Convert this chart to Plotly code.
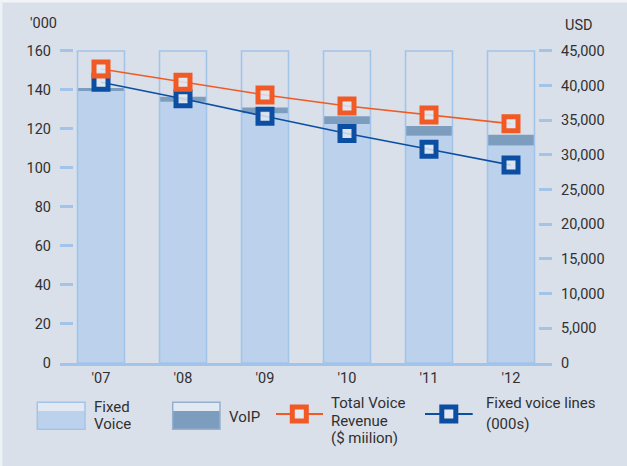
import plotly.graph_objects as go

# ---- data -------------------------------------------------------------
years = ["'07", "'08", "'09", "'10", "'11", "'12"]
fixed_voice = [139.5, 134.0, 128.0, 122.5, 116.5, 111.5]      # '000, left axis
voip = [1.5, 2.5, 3.0, 4.0, 5.0, 5.5]                          # '000, stacked on fixed voice
frame_top = [160, 160, 160, 160, 160, 160]                     # outline box for each year
revenue = [42400, 40500, 38650, 37050, 35750, 34500]           # USD million, right axis
fixed_lines = [144.0, 135.5, 126.5, 117.7, 109.6, 101.5]       # 000s, left axis

left_ticks = [0, 20, 40, 60, 80, 100, 120, 140, 160]
right_ticks = [0, 5000, 10000, 15000, 20000, 25000, 30000, 35000, 40000, 45000]

# ---- styling ----------------------------------------------------------
BG = "#d9e0ea"
FIXED = "#bcd2ec"
VOIP = "#7d9dbf"
OUTLINE = "#a3c4e9"
ORANGE = "#f15a24"
BLUE = "#0b4ea2"
TEXT = "#303030"
FONT = "Roboto"
TICK_SIZE = 14.5
LEG_SIZE = 15
BAR_W = 0.573

W, H = 627, 466
L, R, T, B = 60, 75, 49, 103
PW, PH = W - L - R, H - T - B


def px(x):
    return (x - L) / PW


def py(y):
    return (H - B - y) / PH


fig = go.Figure()

fig.add_trace(go.Bar(x=years, y=fixed_voice, width=BAR_W,
                     marker=dict(color=FIXED, line=dict(width=0)),
                     name="Fixed Voice", showlegend=False))
fig.add_trace(go.Bar(x=years, y=voip, base=fixed_voice, width=BAR_W,
                     marker=dict(color=VOIP, line=dict(width=0)),
                     name="VoIP", showlegend=False))
fig.add_trace(go.Bar(x=years, y=frame_top, width=BAR_W,
                     marker=dict(color="rgba(0,0,0,0)", line=dict(color=OUTLINE, width=1.6)),
                     hoverinfo="skip", showlegend=False))

fig.add_trace(go.Scatter(x=years, y=fixed_lines, mode="lines+markers",
                         line=dict(color=BLUE, width=1.6),
                         marker=dict(symbol="square", size=14, color="rgba(224,231,241,0.85)",
                                     line=dict(color=BLUE, width=5)),
                         name="Fixed voice lines", showlegend=False))
fig.add_trace(go.Scatter(x=years, y=revenue, mode="lines+markers", yaxis="y2",
                         line=dict(color=ORANGE, width=1.6),
                         marker=dict(symbol="square", size=14, color="rgba(224,231,241,0.85)",
                                     line=dict(color=ORANGE, width=5)),
                         name="Total Voice Revenue", showlegend=False))

ymax = 161
fig.update_layout(
    width=W, height=H,
    margin=dict(l=L, r=R, t=T, b=B, pad=0),
    paper_bgcolor=BG, plot_bgcolor=BG,
    barmode="overlay",
    font=dict(family=FONT, size=TICK_SIZE, color=TEXT),
    xaxis=dict(type="category", showgrid=False, zeroline=False,
               showline=True, linecolor=OUTLINE, linewidth=2.5,
               ticks="", tickfont=dict(size=TICK_SIZE, color=TEXT),
               ticklabelstandoff=0, range=[-0.5, 5.5]),
    yaxis=dict(range=[0, ymax], tickvals=left_ticks, showgrid=False, zeroline=False,
               showline=False, ticks="inside", ticklen=13, tickwidth=2.5,
               tickcolor=OUTLINE, ticklabelstandoff=8,
               tickfont=dict(size=TICK_SIZE, color=TEXT)),
    yaxis2=dict(range=[0, 45000 * ymax / 160], tickvals=right_ticks, tickformat=",d",
                overlaying="y", side="right", showgrid=False, zeroline=False,
                showline=False, ticks="inside", ticklen=13, tickwidth=2.5,
                tickcolor=OUTLINE, ticklabelstandoff=8,
                tickfont=dict(size=TICK_SIZE, color=TEXT)),
)

# ---- axis unit labels --------------------------------------------------
fig.add_annotation(x=px(28), y=py(24), xref="paper", yref="paper", text="'000",
                   showarrow=False, xanchor="left", yanchor="middle",
                   font=dict(size=TICK_SIZE, color=TEXT))
fig.add_annotation(x=px(563), y=py(25), xref="paper", yref="paper", text="USD",
                   showarrow=False, xanchor="left", yanchor="middle",
                   font=dict(size=TICK_SIZE, color=TEXT))

# ---- legend ------------------------------------------------------------
shapes = []
# bar swatches: light top strip over the series colour
for x0, x1, fill, edge in [(37.3, 85, FIXED, OUTLINE), (172.7, 220, VOIP, "#93b0cf")]:
    shapes.append(dict(type="rect", xref="paper", yref="paper",
                       x0=px(x0), x1=px(x1), y0=py(411), y1=py(402.3),
                       fillcolor="#e3e9f2", line=dict(width=0)))
    shapes.append(dict(type="rect", xref="paper", yref="paper",
                       x0=px(x0), x1=px(x1), y0=py(429.3), y1=py(411),
                       fillcolor=fill, line=dict(width=0)))
    shapes.append(dict(type="rect", xref="paper", yref="paper",
                       x0=px(x0), x1=px(x1), y0=py(429.3), y1=py(402.3),
                       fillcolor="rgba(0,0,0,0)", line=dict(color=edge, width=1.5)))

# line swatches with square markers
for x0, x1, xc, col in [(276, 323, 299.3, ORANGE), (425, 472.7, 448.8, BLUE)]:
    shapes.append(dict(type="line", xref="paper", yref="paper",
                       x0=px(x0), x1=px(x1), y0=py(414), y1=py(414),
                       line=dict(color=col, width=2)))
    shapes.append(dict(type="rect", xref="paper", yref="paper",
                       x0=px(xc - 7), x1=px(xc + 7), y0=py(421), y1=py(407),
                       fillcolor="#e3e9f2", line=dict(color=col, width=5)))

# panel edge highlight
shapes.append(dict(type="line", xref="paper", yref="paper",
                   x0=px(0), x1=px(W), y0=py(1), y1=py(1),
                   line=dict(color="#f2f4f7", width=3)))
shapes.append(dict(type="line", xref="paper", yref="paper",
                   x0=px(1), x1=px(1), y0=py(0), y1=py(H),
                   line=dict(color="#eef1f5", width=3)))
fig.update_layout(shapes=shapes)

legend_text = [
    (91.7, 406.7, "Fixed"), (91.7, 424.3, "Voice"),
    (226.7, 416.7, "VoIP"),
    (329, 403.3, "Total Voice"), (329, 420.7, "Revenue"), (329, 438.3, "($ miilion)"),
    (484.3, 403.3, "Fixed voice lines"), (484.3, 423.5, "(000s)"),
]
for x, y, t in legend_text:
    fig.add_annotation(x=px(x), y=py(y), xref="paper", yref="paper", text=t,
                       showarrow=False, xanchor="left", yanchor="middle",
                       font=dict(size=LEG_SIZE, color=TEXT))

fig.write_html("out.html")
